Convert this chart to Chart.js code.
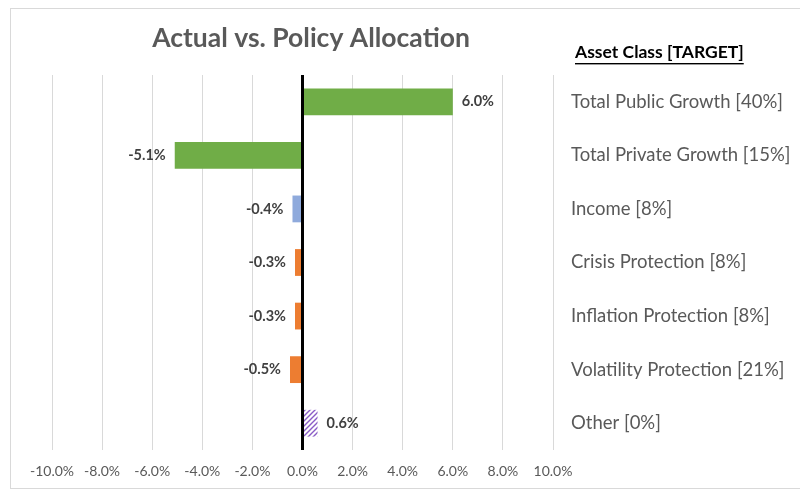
<!DOCTYPE html>
<html>
<head>
<meta charset="utf-8">
<script src="https://cdn.jsdelivr.net/npm/chart.js@4/dist/chart.umd.min.js"></script>
<style>
    html, body { margin: 0; padding: 0; background: #fff; }
    #frame { position: absolute; left: 10px; top: 8px; width: 800px; height: 479px; border: 1px solid #d9d9d9; }
    #wrap { position: absolute; left: 0; top: 0; width: 800px; height: 490px; }
</style>
</head>
<body>
<div id="frame"></div>
<div id="wrap"><canvas id="allocChart" width="800" height="490"></canvas></div>
<script>
// values
const categories = [
    'Total Public Growth [40%]',
    'Total Private Growth [15%]',
    'Income [8%]',
    'Crisis Protection [8%]',
    'Inflation Protection [8%]',
    'Volatility Protection [21%]',
    'Other [0%]'
];
const differences = [6.0, -5.1, -0.4, -0.3, -0.3, -0.5, 0.6];
const xTicks = [-10, -8, -6, -4, -2, 0, 2, 4, 6, 8, 10];

const GREEN = '#70ad47';
const BLUE = '#8faadc';
const ORANGE = '#ed7d31';
const GREY_TEXT = '#595959';

// purple diagonal hatch for "Other"
function makeHatch() {
    let c = document.createElement('canvas');
    c.width = 5;
    c.height = 5;
    let ctx = c.getContext('2d');
    ctx.fillStyle = '#ffffff';
    ctx.fillRect(0, 0, 5, 5);
    ctx.strokeStyle = '#8a5cc6';
    ctx.lineWidth = 1.4;
    ctx.beginPath();
    ctx.moveTo(0, 5); ctx.lineTo(5, 0);
    ctx.moveTo(-2.5, 2.5); ctx.lineTo(2.5, -2.5);
    ctx.moveTo(2.5, 7.5); ctx.lineTo(7.5, 2.5);
    ctx.stroke();
    return c.getContext('2d').createPattern(c, 'repeat');
}

let barColors = [GREEN, GREEN, BLUE, ORANGE, ORANGE, ORANGE, makeHatch()];

// data labels + title texts
const textPlugin = {
    id: 'textPlugin',
    afterDatasetsDraw(chart) {
        let ctx = chart.ctx;
        let meta = chart.getDatasetMeta(0);
        ctx.save();
        ctx.font = 'bold 14.5px Lato';
        ctx.fillStyle = '#404040';
        ctx.textBaseline = 'middle';
        meta.data.forEach(function (bar, i) {
            let v = differences[i];
            let txt = v.toFixed(1) + '%';
            if (v >= 0) {
                ctx.textAlign = 'left';
                ctx.fillText(txt, Math.max(bar.x, bar.base) + 9, bar.y);
            } else {
                ctx.textAlign = 'right';
                ctx.fillText(txt, Math.min(bar.x, bar.base) - 9, bar.y);
            }
        });

        // title
        ctx.font = 'bold 26.5px Lato';
        ctx.fillStyle = GREY_TEXT;
        ctx.textAlign = 'center';
        ctx.fillText('Actual vs. Policy Allocation', 311, 38);

        // right-hand header, underlined
        ctx.font = 'bold 17.5px Lato';
        ctx.fillStyle = '#000000';
        ctx.textAlign = 'left';
        let head = 'Asset Class [TARGET]';
        ctx.fillText(head, 575, 52);
        let w = ctx.measureText(head).width;
        ctx.fillRect(575, 63, w, 1.4);
        ctx.restore();
    }
};

new Chart('allocChart', {
    type: 'bar',
    data: {
        labels: categories,
        datasets: [{
            data: differences,
            backgroundColor: barColors,
            barPercentage: 0.5,
            categoryPercentage: 1.0
        }]
    },
    options: {
        indexAxis: 'y',
        responsive: false,
        animation: false,
        layout: {
            padding: { top: 75, left: 52, right: 0, bottom: 0 }
        },
        plugins: {
            legend: { display: false },
            tooltip: { enabled: false }
        },
        scales: {
            x: {
                min: -10,
                max: 10,
                afterBuildTicks: function (axis) {
                    axis.ticks = xTicks.map(v => ({ value: v }));
                },
                afterFit: function (axis) {
                    axis.height = 40;
                },
                border: { display: false },
                grid: {
                    drawTicks: false,
                    color: ctx => ctx.tick && ctx.tick.value === 0 ? '#000000' : '#d9d9d9',
                    lineWidth: ctx => ctx.tick && ctx.tick.value === 0 ? 3 : 1
                },
                ticks: {
                    padding: 13,
                    color: GREY_TEXT,
                    font: { family: 'Lato', size: 14 },
                    callback: v => v.toFixed(1) + '%'
                }
            },
            y: {
                position: 'right',
                afterFit: function (axis) {
                    axis.width = 247;
                },
                border: { display: false },
                grid: { display: false, drawTicks: false },
                ticks: {
                    padding: 18,
                    color: GREY_TEXT,
                    font: { family: 'Lato', size: 18.5 }
                }
            }
        }
    },
    plugins: [textPlugin]
});
</script>
</body>
</html>
